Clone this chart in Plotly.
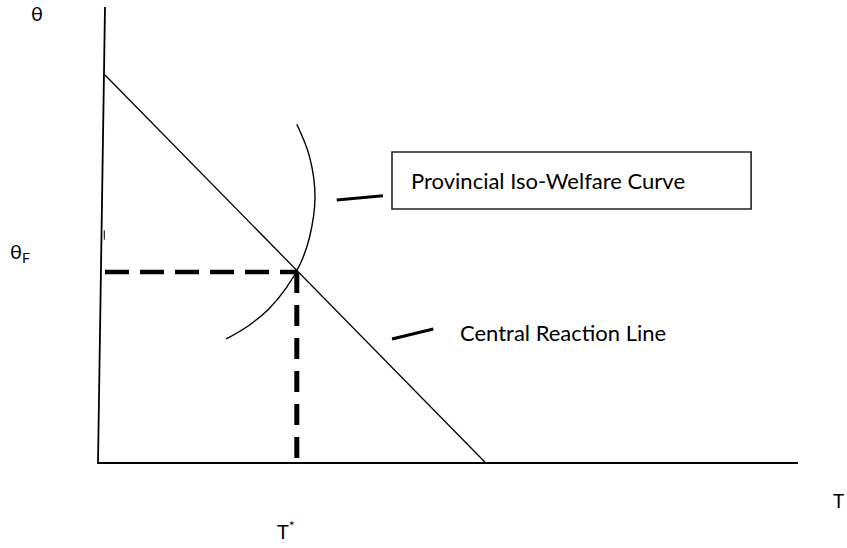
import plotly.graph_objects as go

# model coordinates: T along the bottom, theta up the side
axis_T = [0.1, 0.0, 10.0]
axis_theta = [10.0, 0.0, 0.0]

reaction_T = [0.1, 5.54]
reaction_theta = [8.51, 0.0]

welfare_T = [2.84, 3.02, 3.10, 3.02, 2.89, 2.69, 2.44, 2.14, 1.83]
welfare_theta = [7.43, 6.73, 5.83, 4.94, 4.37, 3.84, 3.38, 3.00, 2.72]

T_star = 2.84
theta_F = 4.19

FONT = "Lato"

fig = go.Figure()

fig.add_trace(go.Scatter(x=axis_T, y=axis_theta, mode="lines",
                         line=dict(color="black", width=1.8), hoverinfo="skip"))
fig.add_trace(go.Scatter(x=reaction_T, y=reaction_theta, mode="lines",
                         line=dict(color="black", width=1.3), hoverinfo="skip"))
fig.add_trace(go.Scatter(x=welfare_T, y=welfare_theta, mode="lines",
                         line=dict(color="black", width=1.4, shape="spline", smoothing=1.0),
                         hoverinfo="skip"))
# dashed guides to T* and theta_F
fig.add_trace(go.Scatter(x=[0.1, T_star], y=[theta_F, theta_F], mode="lines",
                         line=dict(color="black", width=4.5, dash="24px,11px"), hoverinfo="skip"))
fig.add_trace(go.Scatter(x=[T_star, T_star], y=[theta_F, 0], mode="lines",
                         line=dict(color="black", width=5, dash="21px,12px"), hoverinfo="skip"))

# pointer strokes
fig.add_shape(type="line", x0=3.41, y0=5.77, x1=4.07, y1=5.86,
              line=dict(color="black", width=3))
fig.add_shape(type="line", x0=4.20, y0=2.72, x1=4.79, y1=2.94,
              line=dict(color="black", width=3))
# stray tick by the axis
fig.add_shape(type="line", x0=0.09, y0=4.90, x1=0.09, y1=5.10,
              line=dict(color="black", width=1))
# label box
fig.add_shape(type="rect", x0=4.2, y0=5.57, x1=9.33, y1=6.82,
              line=dict(color="#222", width=1.6), fillcolor="white")

fig.add_annotation(x=4.44, y=6.20, text="Provincial Iso-Welfare Curve", showarrow=False,
                   xanchor="left", yanchor="middle", font=dict(family=FONT, size=22, color="black"))
fig.add_annotation(x=5.14, y=2.87, text="Central Reaction Line", showarrow=False,
                   xanchor="left", yanchor="middle", font=dict(family=FONT, size=22, color="black"))

fig.add_annotation(x=-0.87, y=9.86, text="θ", showarrow=False,
                   font=dict(family=FONT, size=20, color="black"))
fig.add_annotation(x=-1.12, y=4.62, text="θ<sub>F</sub>", showarrow=False,
                   font=dict(family=FONT, size=20, color="black"))
fig.add_annotation(x=2.69, y=-1.48, text="T<sup>*</sup>", showarrow=False,
                   font=dict(family=FONT, size=20, color="black"))
fig.add_annotation(x=10.58, y=-0.83, text="T", showarrow=False,
                   font=dict(family=FONT, size=19, color="black"))

fig.update_xaxes(range=[-1.4, 10.7], visible=False, fixedrange=True)
fig.update_yaxes(range=[-1.864, 10.154], visible=False, fixedrange=True)
fig.update_layout(width=847, height=548, margin=dict(l=0, r=0, t=0, b=0),
                  showlegend=False, template="plotly_white",
                  paper_bgcolor="white", plot_bgcolor="white")

fig.write_html("out.html", config={"displayModeBar": False},
               post_script="document.body.style.margin='0';")
